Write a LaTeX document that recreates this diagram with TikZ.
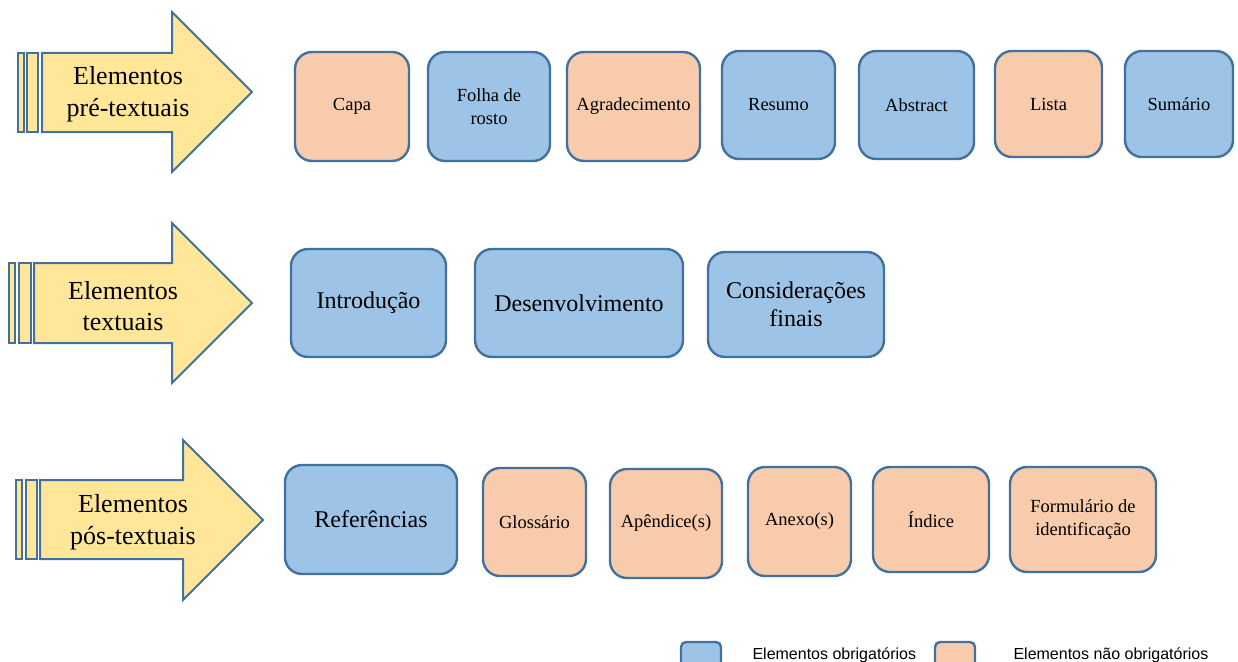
\documentclass[tikz,border=0pt]{standalone}
\usepackage{fontspec}
\setmainfont{Liberation Serif}
\setsansfont{Liberation Sans}
\definecolor{obrig}{HTML}{9DC3E6}
\definecolor{naoobrig}{HTML}{F8CBAD}
\definecolor{borda}{HTML}{41719C}
\definecolor{setacor}{HTML}{FFE699}

\begin{document}
\begin{tikzpicture}[x=1pt,y=-1pt,
  caixa/.style={draw=borda,line width=2.4pt,rounded corners=17pt,align=center,inner sep=2pt},
  obrigatorio/.style={caixa,fill=obrig},
  opcional/.style={caixa,fill=naoobrig},
  pequeno/.style={font=\fontsize{18.5}{22.5}\selectfont},
  grande/.style={font=\fontsize{24}{28}\selectfont},
  seta/.style={draw=borda,line width=2pt,fill=setacor},
  rotulo/.style={align=center,font=\fontsize{26}{31.5}\selectfont},
  legenda/.style={draw=borda,line width=2.4pt,rounded corners=5pt},
  ]
  \clip (0,0) rectangle (1238,661);

  % setas
  \draw[seta] (18,53) rectangle (24,132);
  \draw[seta] (27,53) rectangle (38,132);
  \draw[seta] (42,53) -- (172,53) -- (172,12) -- (252,92) -- (172,172) -- (172,132) -- (42,132) -- cycle;
  \node[rotulo] (pre) at (128,94) {Elementos\\pré-textuais};

  \draw[seta] (9,263) rectangle (15,343);
  \draw[seta] (19,263) rectangle (31,343);
  \draw[seta] (34,263) -- (172,263) -- (172,223) -- (252,303) -- (172,383) -- (172,343) -- (34,343) -- cycle;
  \node[rotulo] (txt) at (123,306) {Elementos\\textuais};

  \draw[seta] (16,480) rectangle (22,559);
  \draw[seta] (26,480) rectangle (37,559);
  \draw[seta] (40,480) -- (183,480) -- (183,440) -- (263,520) -- (183,600) -- (183,559) -- (40,559) -- cycle;
  \node[rotulo] (pos) at (133,522) {Elementos\\pós-textuais};

  % pre-textuais
  \node[opcional,pequeno,minimum width=114pt,minimum height=109pt] (capa) at (352,106.5) {Capa};
  \node[obrigatorio,pequeno,minimum width=122pt,minimum height=109pt] (folha) at (489,106.5) {Folha de\\rosto};
  \node[opcional,pequeno,minimum width=133pt,minimum height=109pt] (agrad) at (633.5,106.5) {Agradecimento};
  \node[obrigatorio,pequeno,minimum width=113pt,minimum height=108pt] (resumo) at (778.5,105) {Resumo};
  \node[obrigatorio,pequeno,minimum width=115pt,minimum height=108pt] (abstract) at (916.5,105) {Abstract};
  \node[opcional,pequeno,minimum width=107pt,minimum height=106pt] (lista) at (1048.5,104) {Lista};
  \node[obrigatorio,pequeno,minimum width=108pt,minimum height=106pt] (sumario) at (1179,104) {Sumário};

  % textuais
  \node[obrigatorio,grande,minimum width=155pt,minimum height=108pt] (intro) at (368.5,303) {Introdução};
  \node[obrigatorio,grande,minimum width=208pt,minimum height=108pt] (desenv) at (579,303) {Desenvolvimento};
  \node[obrigatorio,grande,minimum width=176pt,minimum height=105pt] (consid) at (796,304.5) {Considerações\\finais};

  % pos-textuais
  \node[obrigatorio,grande,minimum width=172pt,minimum height=109pt] (refs) at (371,519.5) {Referências};
  \node[opcional,pequeno,minimum width=103pt,minimum height=108pt] (gloss) at (534.5,522) {Glossário};
  \node[opcional,pequeno,minimum width=112pt,minimum height=109pt] (apend) at (666,523.5) {Apêndice(s)};
  \node[opcional,pequeno,minimum width=103pt,minimum height=109pt] (anexo) at (799.5,521.5) {Anexo(s)};
  \node[opcional,pequeno,minimum width=116pt,minimum height=105pt] (indice) at (931,519.5) {Índice};
  \node[opcional,pequeno,minimum width=146pt,minimum height=105pt] (form) at (1083,519.5) {Formulário de\\identificação};

  % legenda
  \draw[legenda,fill=obrig] (681,642) rectangle (721,682);
  \node[anchor=base west,font=\sffamily\fontsize{16}{19}\selectfont] (leg1) at (749,659) {Elementos obrigatórios};
  \draw[legenda,fill=naoobrig] (935,642) rectangle (975,682);
  \node[anchor=base west,font=\sffamily\fontsize{16}{19}\selectfont] (leg2) at (1010,659) {Elementos não obrigatórios};
\end{tikzpicture}
\end{document}
